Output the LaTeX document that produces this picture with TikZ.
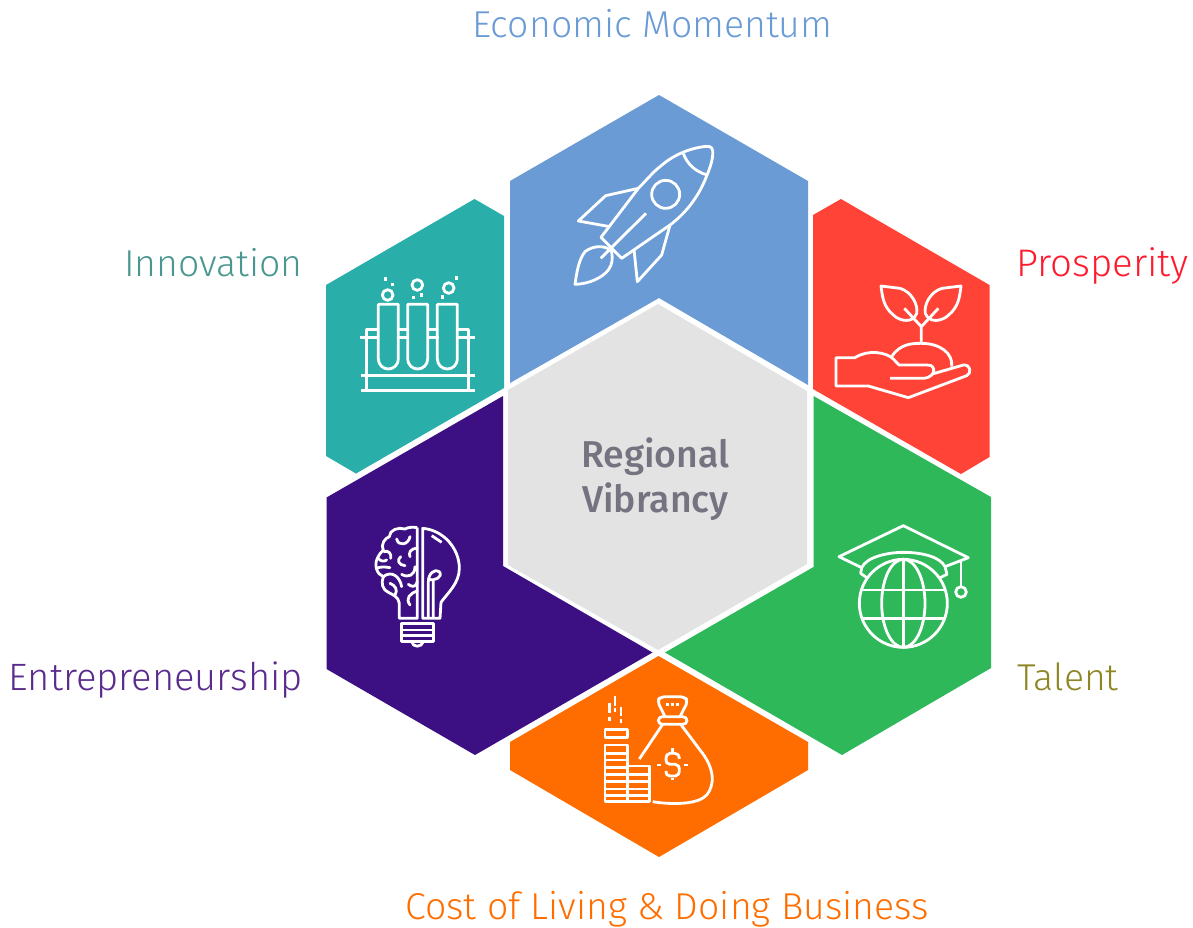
\documentclass[tikz,border=0pt]{standalone}
\usepackage{fontspec}
\setmainfont{Fira Sans Light}[BoldFont={Fira Sans}]
\newfontfamily\midfont{Fira Sans Medium}
\definecolor{cblue}{HTML}{6A9BD5}
\definecolor{cteal}{HTML}{29AEAA}
\definecolor{cred}{HTML}{FF4336}
\definecolor{cgreen}{HTML}{2EB85A}
\definecolor{cpurple}{HTML}{3C0F83}
\definecolor{corange}{HTML}{FF6D00}
\definecolor{cgray}{HTML}{E3E3E4}
\definecolor{tinno}{HTML}{4A9790}
\definecolor{tpros}{HTML}{FF1A2E}
\definecolor{tentr}{HTML}{5A2A8C}
\definecolor{ttale}{HTML}{8E8622}
\definecolor{tcent}{HTML}{75737F}
\tikzset{
  hexa/.style={draw=none},
  lbl/.style={inner sep=0pt,anchor=base,font=\fontsize{37.4}{42}\selectfont},
  ico/.style={draw=white,line width=2.8pt,line join=round,fill=none},
  dotm/.style={fill=white,draw=none},
}
\begin{document}
\begin{tikzpicture}[x=1pt,y=-1pt]
\useasboundingbox (0,0) rectangle (1193,927);
% hexagons
\fill[hexa,cblue] (510,181) -- (659,95) -- (808,181) -- (808,385) -- (659,298) -- (510,383) -- cycle;
\fill[hexa,cteal] (326,285) -- (474.5,199) -- (504,216) -- (504,388) -- (356,473.5) -- (326,456) -- cycle;
\fill[hexa,cred] (813,215) -- (841,199) -- (989.5,285) -- (989.5,457) -- (961,474) -- (813,389) -- cycle;
\fill[hexa,cgray] (508,390) -- (658,304) -- (807,391) -- (807,564) -- (658,650) -- (508,565) -- cycle;
\fill[hexa,cgreen] (813.5,396) -- (991,497) -- (991,668) -- (842,755) -- (665,652.5) -- (813.5,567) -- cycle;
\fill[hexa,cpurple] (503,396) -- (326.5,497.5) -- (326.5,669) -- (475,755) -- (652.5,652.5) -- (503,566) -- cycle;
\fill[hexa,corange] (658.5,656) -- (808,742) -- (808,770) -- (659,857) -- (510,770) -- (510,742) -- cycle;
% labels
\node[lbl,text=cblue] (econ) at (652.5,37) {Economic Momentum};
\node[lbl,text=tinno,anchor=base east] (inno) at (303,276) {Innovation};
\node[lbl,text=tpros,anchor=base east,font=\fontsize{38.4}{42}\selectfont] (pros) at (1189,276) {Prosperity};
\node[lbl,text=tentr,anchor=base east,font=\fontsize{38.1}{42}\selectfont] (entr) at (303,690) {Entrepreneurship};
\node[lbl,text=ttale,anchor=base west] (tale) at (1017,690) {Talent};
\node[lbl,text=corange] (cost) at (667,919) {Cost of Living \& Doing Business};
\node[inner sep=0pt,align=center,text=tcent,font=\midfont\fontsize{37.4}{45}\selectfont] (center) at (655.5,479) {Regional\\Vibrancy};
% rocket
\begin{scope}[shift={(560,130)},scale=1/3]
\draw[ico] (185,385) -- (330,285) .. controls (370,255) and (410,210) .. (435,150) .. controls (452,110) and (460,85) .. (458,62) .. controls (456,48) and (445,48) .. (430,50) .. controls (395,55) and (345,70) .. (300,110) .. controls (280,125) and (255,155) .. (235,175) -- (123,322) -- cycle;
\draw[ico] (370,70) .. controls (380,100) and (405,125) .. (442,135);
\draw[ico] (317,193) circle (42);
\draw[ico] (258,250) -- (122,385);
\draw[ico] (235,175) -- (137,197) -- (55,273) -- (150,290);
\draw[ico] (330,285) -- (305,375) -- (232,455) -- (222,358);
\draw[ico] (155,365) .. controls (140,345) and (100,345) .. (75,365) .. controls (55,390) and (50,430) .. (45,463) .. controls (85,462) and (125,445) .. (145,420) .. controls (158,402) and (158,385) .. (155,365) -- cycle;
\end{scope}
% tubes
\begin{scope}[shift={(350,265)},scale=1/3]
\foreach \x in {85,173,262} {
  \draw[ico] (\x,118) -- (\x+60,118) -- (\x+60,282) arc[start angle=0,end angle=180,radius=30] -- cycle;
}
\draw[ico] (30,217) -- (85,217) (145,217) -- (178,217) (233,217) -- (268,217) (317,217) -- (375,217);
\draw[ico] (85,193) -- (50,193) -- (50,376) (145,193) -- (173,193) (233,193) -- (262,193) (322,193) -- (355,193) -- (355,376);
\draw[ico] (33,331) -- (375,331) (33,376) -- (375,376);
\draw[ico] (113,90) circle (16) (202,60) circle (16) (296,69) circle (16);
\foreach \p in {(106,42),(127,58),(190,97),(214,90),(277,96),(319,39)} {
  \fill[dotm] \p ++(-5,-5) rectangle ++(10,10);
}
\end{scope}
% sprout in hand
\begin{scope}[shift={(825,275)},scale=1/3]
\draw[ico] (195,310) -- (298,310) .. controls (315,308) and (330,295) .. (326,282) .. controls (322,270) and (315,270) .. (305,270) -- (222,270) -- (205,252) .. controls (185,232) and (130,222) .. (90,248) -- (33,248) -- (33,333) -- (130,333) -- (250,368) -- (425,302) .. controls (440,295) and (438,268) .. (415,270) -- (322,297);
\draw[ico] (200,245) .. controls (225,205) and (265,205) .. (289,205) .. controls (345,205) and (385,235) .. (380,275);
\draw[ico] (289,205) -- (289,155) -- (238,100) (289,155) -- (340,100);
\draw[ico] (168,33) -- (225,40) .. controls (260,50) and (280,90) .. (275,115) .. controls (265,145) and (225,140) .. (205,120) .. controls (175,95) and (172,65) .. (168,33) -- cycle;
\draw[ico] (408,33) -- (351,40) .. controls (316,50) and (296,90) .. (301,115) .. controls (311,145) and (351,140) .. (371,120) .. controls (401,95) and (404,65) .. (408,33) -- cycle;
\end{scope}
% graduation globe
\begin{scope}[shift={(825,515)},scale=1/3]
\draw[ico] (110,158) -- (42,125) -- (235,32) -- (430,128) -- (360,155);
\draw[ico] (125,188) -- (107,175) -- (110,158) .. controls (125,125) and (190,112) .. (235,112) .. controls (290,112) and (345,125) .. (360,155) -- (366,178) -- (345,188);
\draw[ico] (408,135) -- (408,215);
\draw[ico] (408,231) circle (16);
\draw[ico] (235,265) circle (132);
\draw[ico] (235,265) ellipse (65 and 132);
\draw[ico] (235,133) -- (235,397);
\draw[ico] (114,225) -- (356,225) (114,310) -- (356,310);
\end{scope}
% brain bulb
\begin{scope}[shift={(360,515)},scale=1/3]
\draw[ico] (188,40) .. controls (250,45) and (298,100) .. (298,160) .. controls (298,205) and (262,235) .. (243,262) -- (240,310) -- (188,310) -- cycle;
\draw[ico] (172,38) -- (172,310) -- (118,310) -- (118,265) .. controls (115,245) and (100,240) .. (85,232) .. controls (68,225) and (62,205) .. (70,185) .. controls (50,178) and (42,150) .. (52,130) .. controls (58,118) and (62,112) .. (70,105) .. controls (62,85) and (75,70) .. (88,65) .. controls (88,45) and (115,35) .. (135,42) .. controls (145,36) and (160,36) .. (172,38);
\draw[ico] (215,62) -- (245,82);
\draw[ico] (205,310) -- (205,200) .. controls (205,175) and (225,160) .. (238,170) .. controls (250,185) and (225,200) .. (205,192) (220,310) -- (220,195);
\draw[ico] (125,325) -- (220,325) -- (220,380) -- (125,380) -- cycle;
\draw[ico] (125,345) -- (220,345) (125,362) -- (220,362);
\draw[ico] (155,380) .. controls (158,398) and (185,398) .. (190,380);
\draw[ico,line cap=round] (110,72) .. controls (115,95) and (145,90) .. (150,65) (72,110) .. controls (85,105) and (95,115) .. (92,130) (172,100) .. controls (150,100) and (145,115) .. (150,125) (55,130) .. controls (62,140) and (72,140) .. (80,135) (122,125) .. controls (110,135) and (115,150) .. (135,152) (50,160) .. controls (60,155) and (75,155) .. (90,158) (165,155) .. controls (165,180) and (145,190) .. (125,178) (70,185) .. controls (95,165) and (120,185) .. (125,215) (90,205) .. controls (105,210) and (115,225) .. (105,240) (172,200) .. controls (165,220) and (155,215) .. (145,208) (172,228) .. controls (150,235) and (135,250) .. (150,270);
\end{scope}
% money bag and coins
\begin{scope}[shift={(590,685)},scale=1/3]
\draw[ico,rounded corners=4pt] (225,95) -- (202,48) -- (212,35) -- (283,35) -- (294,48) -- (270,95);
\draw[ico,rounded corners=4pt] (205,95) rectangle (291,118);
\draw[ico] (218,118) -- (148,222);
\draw[ico] (272,118) -- (330,195) .. controls (375,250) and (375,300) .. (350,330) .. controls (325,358) and (250,360) .. (188,350);
\draw[ico] (268,222) .. controls (268,210) and (262,205) .. (255,205) -- (240,205) .. controls (232,205) and (228,212) .. (228,222) .. controls (228,232) and (232,238) .. (240,238) -- (256,238) .. controls (264,238) and (268,245) .. (268,255) .. controls (268,265) and (264,273) .. (256,273) -- (240,273) .. controls (232,273) and (228,268) .. (228,258);
\draw[ico] (247,190) -- (247,200) (247,278) -- (247,285) (202,240) -- (213,240) (282,240) -- (293,240);
\foreach \x in {233,248,263} { \fill[dotm] (\x,58) ++(-4,-4) rectangle ++(8,8); }
\draw[ico] (45,133) rectangle (113,157);
\draw[ico] (45,180) rectangle (113,350);
\draw[ico] (113,243) rectangle (178,350);
\draw[ico] (45,205) -- (113,205) (45,225) -- (113,225) (45,248) -- (113,248);
\draw[ico] (45,268) -- (178,268) (45,290) -- (178,290) (45,312) -- (178,312) (45,332) -- (178,332);
\draw[ico] (75,33) -- (75,63) (58,55) -- (58,85) (93,65) -- (93,93) (75,70) -- (75,82) (58,96) -- (58,107) (93,101) -- (93,113);
\end{scope}
\end{tikzpicture}
\end{document}
